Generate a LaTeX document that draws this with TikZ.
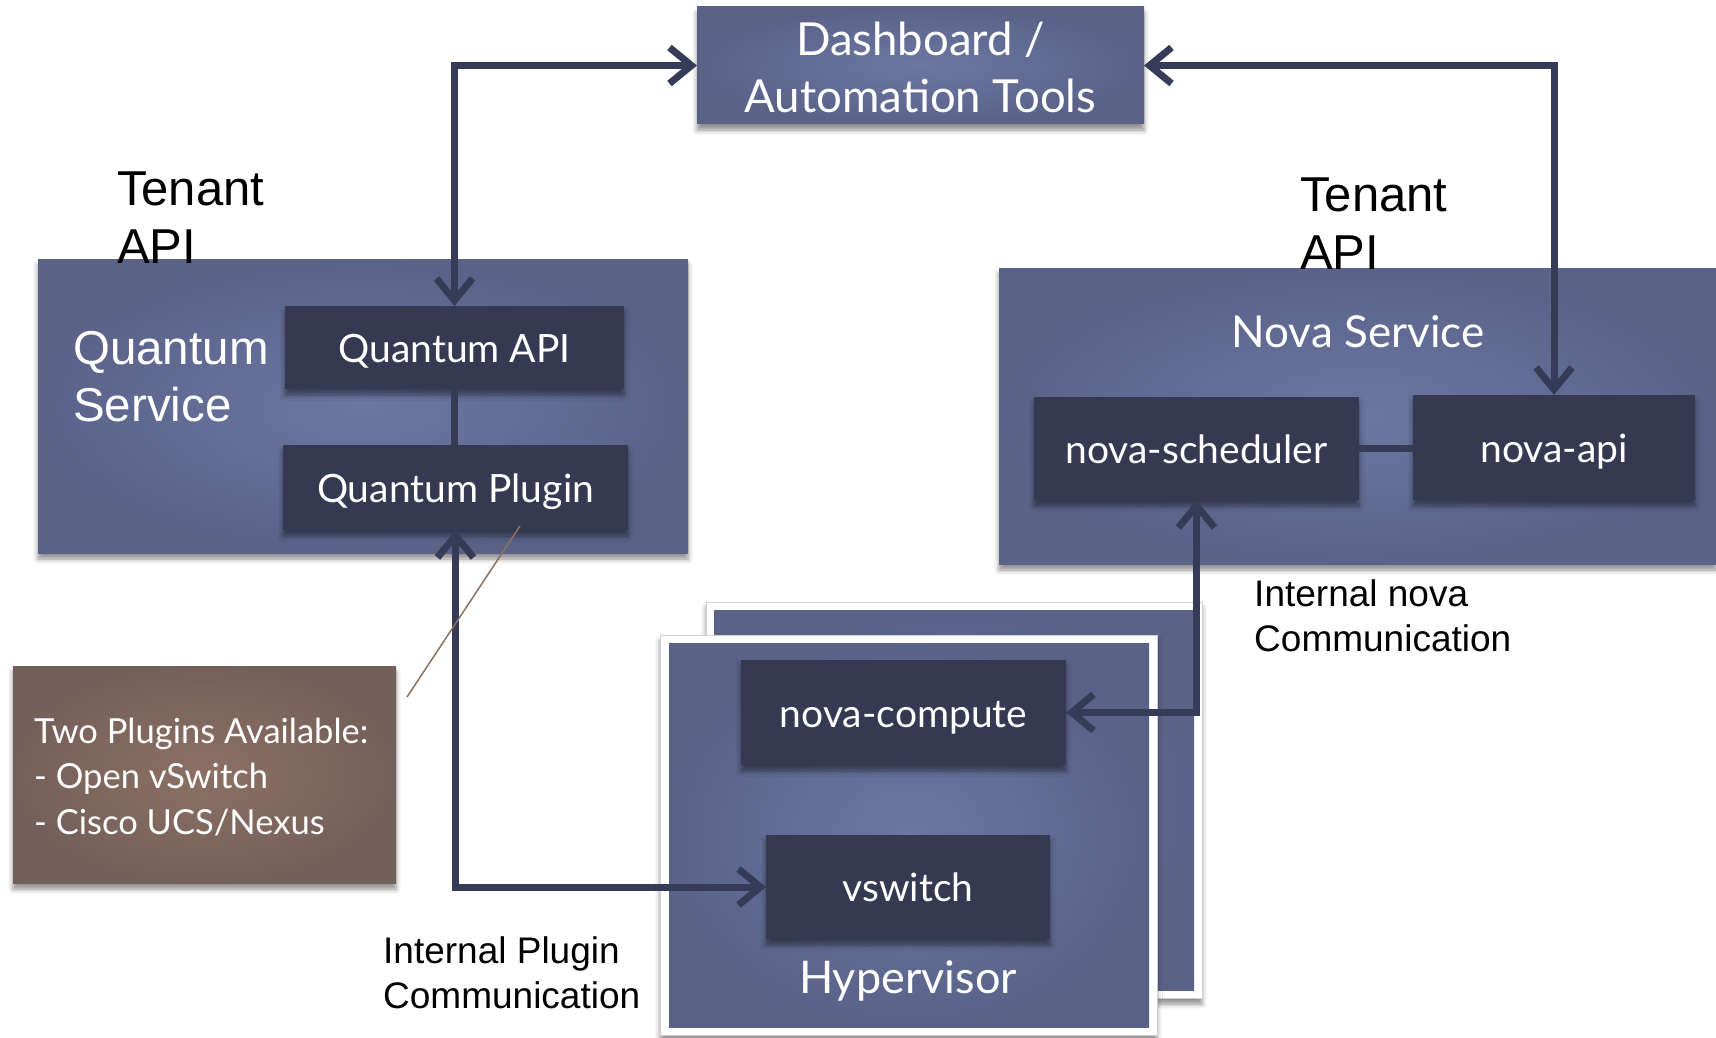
\documentclass[tikz,border=0pt]{standalone}
\usepackage{fontspec}
\setmainfont{Lato}
\newfontfamily\arialf{Liberation Sans}
\usetikzlibrary{arrows.meta,shadows,shadows.blur}
\definecolor{boxdark}{HTML}{5A6288}
\definecolor{boxlight}{HTML}{6C77A2}
\definecolor{innerc}{HTML}{353A52}
\definecolor{linec}{HTML}{363C57}
\definecolor{browndark}{HTML}{74605A}
\definecolor{brownlight}{HTML}{8D7064}
\definecolor{calloutc}{HTML}{8C7062}
\definecolor{framegray}{HTML}{D0D0D0}
\begin{document}
\begin{tikzpicture}[x=1pt,y=-1pt,
  base/.style={rectangle, inner sep=0pt, outer sep=0pt},
  sh/.style={blur shadow={shadow xshift=0pt, shadow yshift=-6pt, shadow blur radius=5pt, shadow opacity=45}},
  svc/.style={base, sh, inner color=boxlight, outer color=boxdark},
  svcflat/.style={base, inner color=boxlight, outer color=boxdark},
  comp/.style={base, sh, fill=innerc, text=white, text height=36pt, text depth=7pt, font=\fontsize{39}{46}\selectfont},
  frame/.style={base, sh, fill=white, draw=framegray, line width=1pt},
  note/.style={base, sh, inner color=brownlight, outer color=browndark},
  wtext/.style={text=white, inner sep=0pt, align=center},
  btext/.style={text=black, inner sep=0pt, align=left, anchor=west, font=\arialf},
  biarrow/.style={draw=linec, line width=7pt, {Straight Barb[length=22pt,width=36pt]}-{Straight Barb[length=22pt,width=36pt]}},
  plain/.style={draw=linec, line width=7pt},
  callout/.style={draw=calloutc, line width=1.5pt}
]
\useasboundingbox (0,0) rectangle (1716,1038);

% Dashboard
\node[svc, minimum width=447pt, minimum height=117pt] (dash) at (920.5,65.5) {};
\node[wtext, font=\fontsize{45.5}{57}\selectfont] (dashtxt) at (920.5,67) {Dashboard /\\Automation Tools};

% Quantum service
\node[svc, minimum width=650pt, minimum height=294pt] (qsvc) at (363,406) {};
\node[btext, text=white, font=\arialf\fontsize{47.5}{57}\selectfont] (qsvctxt) at (73,377) {Quantum\\Service};
\node[comp, minimum width=339pt, minimum height=83pt] (qapi) at (454.5,347.5) {Quantum API};
\node[comp, minimum width=345pt, minimum height=85pt] (qplug) at (455.5,487.5) {Quantum Plugin};

% Tenant API labels
\node[btext, font=\arialf\fontsize{49}{58}\selectfont] (tapi1) at (117,218) {Tenant\\API};

% Nova service
\node[svc, minimum width=717pt, minimum height=296pt] (nsvc) at (1357.5,416) {};
\node[wtext, font=\fontsize{44}{52}\selectfont] (nsvctxt) at (1358,332) {Nova Service};
\node[comp, minimum width=325pt, minimum height=103pt] (nsched) at (1196.5,448.5) {nova-scheduler};
\node[comp, minimum width=282pt, minimum height=105pt] (napi) at (1554,447.5) {nova-api};
\node[btext, font=\arialf\fontsize{49}{58}\selectfont] (tapi2) at (1300,224) {Tenant\\API};

% Hypervisors
\node[frame, minimum width=496pt, minimum height=396pt] (hvbackf) at (954,800) {};
\node[svcflat, minimum width=480pt, minimum height=380pt] (hvback) at (954,800) {};
\node[frame, minimum width=497pt, minimum height=400pt] (hvfrontf) at (908.5,835) {};
\node[svcflat, minimum width=480pt, minimum height=384pt] (hvfront) at (909,835) {};
\node[comp, minimum width=325pt, minimum height=105pt] (ncomp) at (903.5,712.5) {nova-compute};
\node[comp, minimum width=284pt, minimum height=104pt] (vsw) at (908,887) {vswitch};
\node[wtext, font=\fontsize{45}{52}\selectfont] (hvtxt) at (908,981) {Hypervisor};

% Note
\node[note, minimum width=383pt, minimum height=217pt] (note) at (204.5,774.5) {};
\node[wtext, align=left, anchor=west, font=\fontsize{34.5}{45.5}\selectfont] (notetxt) at (34,777) {Two Plugins Available:\\- Open vSwitch\\- Cisco UCS/Nexus};

% Labels
\node[btext, font=\arialf\fontsize{37}{45}\selectfont] (lblnova) at (1254,616) {Internal nova\\Communication};
\node[btext, font=\arialf\fontsize{37}{45}\selectfont] (lblplug) at (383,973) {Internal Plugin\\Communication};

% Connectors
\draw[biarrow] (dash.west) -| (qapi.north);
\draw[biarrow] (dash.east) -| (napi.north);
\draw[plain] (qapi.south) -- (qapi.south |- qplug.north);
\draw[plain] (nsched.east) -- (nsched.east -| napi.west);
\draw[biarrow] (qplug.south) |- (vsw.west);
\draw[biarrow] (nsched.south) |- (ncomp.east);

% Callout
\coordinate (cstart) at (407,697);
\coordinate (cend) at (520,526);
\draw[callout] (cstart) -- (cend);
\end{tikzpicture}
\end{document}
